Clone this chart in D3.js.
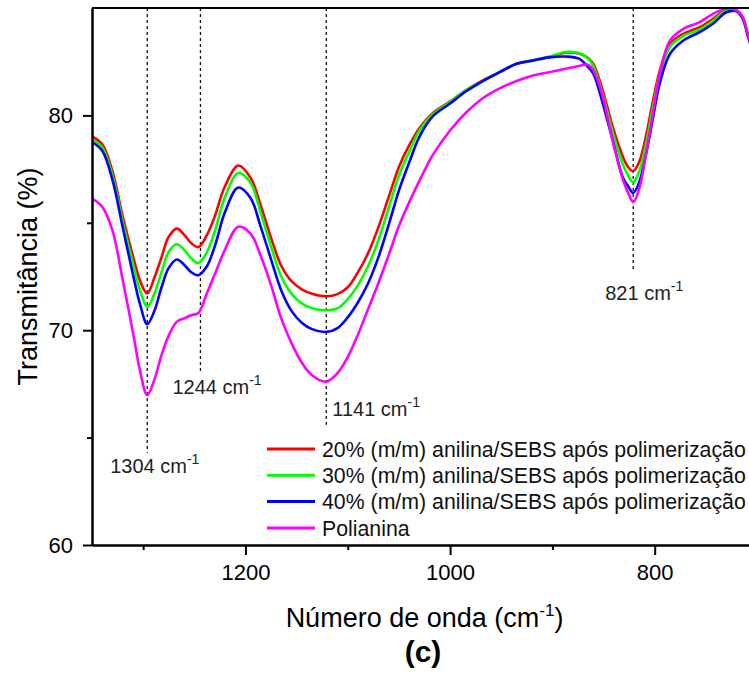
<!DOCTYPE html>
<html lang="pt">
<head>
<meta charset="UTF-8">
<title>FTIR - Transmitância (c)</title>
<script src="https://d3js.org/d3.v7.min.js"></script>
<style>
  body { margin: 0; background: #fff; }
  svg { display: block; font-family: "Liberation Sans", Arial, sans-serif; }
  .series { fill: none; stroke-width: 2.6; stroke-linejoin: round; }
  .marker { stroke: #111; stroke-width: 1.3; stroke-dasharray: 3,3; }
</style>
</head>
<body>
<svg id="chart" width="749" height="675"></svg>
<script>
// wavenumbers (cm-1) shared by all spectra
const waveNumbers = [1350, 1340, 1330, 1320, 1310, 1303, 1296, 1289, 1282, 1275,
  1267, 1260, 1253, 1246, 1238, 1230, 1220, 1207, 1195, 1185,
  1175, 1165, 1155, 1145, 1135, 1121, 1110, 1100, 1090, 1080,
  1070, 1060, 1050, 1040, 1030, 1017, 1000, 985, 968, 952,
  935, 919, 903, 887, 874, 866, 860, 851, 841, 831,
  826, 821, 815, 808, 802, 795, 785, 772, 756, 743,
  730, 720, 714, 709, 700];

const anilina20 = [79.02, 78.65, 77.4, 75.3, 73.45, 72.3, 71.71, 72.45, 73.4, 74.35,
  74.73, 74.45, 74.05, 73.87, 74.4, 75.3, 76.7, 77.67, 77.1, 75.8,
  74.3, 73.0, 72.28, 71.9, 71.7, 71.58, 71.68, 72.0, 72.7, 73.6,
  74.8, 76.2, 77.6, 78.6, 79.4, 80.1, 80.65, 81.15, 81.63, 82.0,
  82.4, 82.56, 82.72, 82.92, 82.88, 82.7, 82.4, 81.2, 79.46, 78.06,
  77.6, 77.41, 77.85, 79.15, 80.6, 82.09, 83.33, 83.8, 84.11, 84.5,
  84.92, 84.88, 84.57, 83.8, 82.5];

const anilina30 = [78.87, 78.5, 77.2, 75.05, 73.1, 71.85, 71.08, 71.7, 72.7, 73.65,
  74.0, 73.75, 73.35, 73.13, 73.6, 74.6, 76.2, 77.32, 76.85, 75.45,
  73.9, 72.5, 71.7, 71.25, 71.02, 70.93, 71.02, 71.45, 72.1, 73.0,
  74.2, 75.7, 77.2, 78.3, 79.3, 80.05, 80.62, 81.15, 81.6, 82.0,
  82.4, 82.56, 82.74, 82.95, 82.9, 82.7, 82.3, 81.0, 79.2, 77.7,
  77.2, 76.9, 77.4, 78.8, 80.3, 81.9, 83.2, 83.7, 84.0, 84.4,
  84.88, 84.88, 84.57, 83.8, 82.5];

const anilina40 = [78.76, 78.35, 77.0, 74.8, 72.6, 71.2, 70.28, 70.9, 72.0, 72.9,
  73.29, 73.05, 72.7, 72.56, 72.95, 73.9, 75.5, 76.64, 76.15, 74.8,
  73.3, 71.85, 70.9, 70.35, 70.05, 69.92, 70.1, 70.6, 71.3, 72.2,
  73.4, 74.9, 76.5, 77.8, 79.0, 79.95, 80.55, 81.1, 81.6, 82.0,
  82.4, 82.56, 82.7, 82.74, 82.64, 82.3, 81.95, 80.6, 78.84, 77.1,
  76.7, 76.39, 76.9, 78.3, 79.8, 81.5, 82.87, 83.49, 83.88, 84.27,
  84.8, 84.85, 84.5, 83.7, 82.4];

const polianilina = [76.13, 75.75, 74.65, 72.35, 69.9, 68.1, 66.98, 67.7, 68.85, 69.75,
  70.4, 70.55, 70.7, 70.8, 71.68, 72.6, 73.75, 74.82, 74.5, 73.45,
  72.1, 70.55, 69.4, 68.5, 67.9, 67.6, 68.0, 68.75, 69.8, 71.0,
  72.2, 73.5, 74.85, 75.95, 76.95, 78.15, 79.3, 80.1, 80.8, 81.25,
  81.6, 81.86, 82.01, 82.17, 82.3, 82.37, 82.1, 80.9, 78.8, 77.0,
  76.4, 75.97, 76.6, 78.37, 80.0, 81.94, 83.49, 84.03, 84.34, 84.73,
  84.97, 84.9, 84.57, 83.8, 82.5];

const seriesNames = [
  "20% (m/m) anilina/SEBS após polimerização",
  "30% (m/m) anilina/SEBS após polimerização",
  "40% (m/m) anilina/SEBS após polimerização",
  "Polianina"
];
const seriesColors = ["#ff0000", "#00ff00", "#0000ff", "#ff00ff"];
const seriesValues = [anilina20, anilina30, anilina40, polianilina];

// band markers: position on axis, label, where the dashed line stops (y value)
const markerPos = [1296, 1244, 1121, 821];
const markerLabels = ["1304", "1244", "1141", "821"];
const markerEnd = [64.3, 68.0, 65.6, 72.8];
// label offsets in px relative to line bottom
const markerOffset = [[-37, 20], [-28, 21], [6, -9], [-28, 30]];

const xMajor = [1200, 1000, 800];
const xMinor = [1300, 1100, 900];
const yMajor = [60, 70, 80];
const yMinor = [65, 75];

const svg = d3.select("#chart");
const margin = { left: 92, top: 8, right: 757, bottom: 545 };

const x = d3.scaleLinear().domain([1350, 700]).range([margin.left, margin.right]);
const y = d3.scaleLinear().domain([60, 85]).range([margin.bottom, margin.top]);

svg.append("clipPath").attr("id", "plotClip")
  .append("rect")
  .attr("x", margin.left).attr("y", margin.top)
  .attr("width", margin.right - margin.left)
  .attr("height", margin.bottom - margin.top);

// dashed band markers
markerPos.forEach((p, i) => {
  svg.append("line")
    .attr("class", "marker")
    .attr("x1", x(p)).attr("x2", x(p))
    .attr("y1", y(85)).attr("y2", y(markerEnd[i]));
  const t = svg.append("text")
    .attr("x", x(p) + markerOffset[i][0])
    .attr("y", y(markerEnd[i]) + markerOffset[i][1])
    .attr("font-size", 20)
    .attr("fill", "#222");
  t.append("tspan").text(markerLabels[i] + " cm");
  t.append("tspan").attr("dy", -9).attr("font-size", 14).text("-1");
});

// spectra
const line = d3.line()
  .x((d, i) => x(waveNumbers[i]))
  .y(d => y(d))
  .curve(d3.curveCatmullRom.alpha(0.5));

svg.append("g").attr("clip-path", "url(#plotClip)")
  .selectAll("path")
  .data(seriesValues)
  .enter().append("path")
  .attr("class", "series")
  .attr("stroke", (d, i) => seriesColors[i])
  .attr("d", line);

// axes
function styleAxis(g) {
  g.select(".domain").attr("stroke", "#000").attr("stroke-width", 2);
  g.selectAll(".tick line").attr("stroke", "#000").attr("stroke-width", 2);
  g.selectAll(".tick text").attr("font-size", 22).attr("fill", "#000")
    .attr("font-family", "'Liberation Sans', Arial, sans-serif");
}

svg.append("g")
  .attr("transform", "translate(0," + margin.bottom + ")")
  .call(d3.axisBottom(x).tickValues(xMajor).tickSize(10).tickPadding(9).tickSizeOuter(0).tickFormat(d3.format("d")))
  .call(styleAxis);
svg.append("g")
  .attr("transform", "translate(0," + margin.bottom + ")")
  .call(d3.axisBottom(x).tickValues(xMinor).tickSize(5).tickSizeOuter(0).tickFormat(""))
  .call(styleAxis);

svg.append("g")
  .attr("transform", "translate(" + margin.left + ",0)")
  .call(d3.axisLeft(y).tickValues(yMajor).tickSize(9).tickPadding(10).tickSizeOuter(0))
  .call(styleAxis);
svg.append("g")
  .attr("transform", "translate(" + margin.left + ",0)")
  .call(d3.axisLeft(y).tickValues(yMinor).tickSize(5).tickSizeOuter(0).tickFormat(""))
  .call(styleAxis);

// top frame
svg.append("line")
  .attr("x1", margin.left).attr("x2", margin.right)
  .attr("y1", margin.top).attr("y2", margin.top)
  .attr("stroke", "#000").attr("stroke-width", 2);

// legend
const legend = svg.append("g").attr("transform", "translate(267,449)");
seriesNames.forEach((name, i) => {
  const row = legend.append("g").attr("transform", "translate(0," + (i * 26.3) + ")");
  row.append("line")
    .attr("x1", 0).attr("x2", 48)
    .attr("stroke", seriesColors[i]).attr("stroke-width", 3);
  row.append("text")
    .attr("x", 55).attr("dy", "0.36em")
    .attr("font-size", 21.3).attr("fill", "#111")
    .text(name);
});

// axis titles
const xTitle = svg.append("text")
  .attr("x", (margin.left + margin.right) / 2)
  .attr("y", 627)
  .attr("text-anchor", "middle")
  .attr("font-size", 27).attr("fill", "#000");
xTitle.append("tspan").text("Número de onda (cm");
xTitle.append("tspan").attr("dy", -11).attr("font-size", 17).text("-1");
xTitle.append("tspan").attr("dy", 11).text(")");

svg.append("text")
  .attr("transform", "translate(37," + ((margin.top + margin.bottom) / 2) + ") rotate(-90)")
  .attr("text-anchor", "middle")
  .attr("font-size", 27).attr("fill", "#000")
  .text("Transmitância (%)");

svg.append("text")
  .attr("x", 423).attr("y", 662)
  .attr("text-anchor", "middle")
  .attr("font-size", 30).attr("font-weight", "bold").attr("fill", "#000")
  .text("(c)");
</script>
</body>
</html>
